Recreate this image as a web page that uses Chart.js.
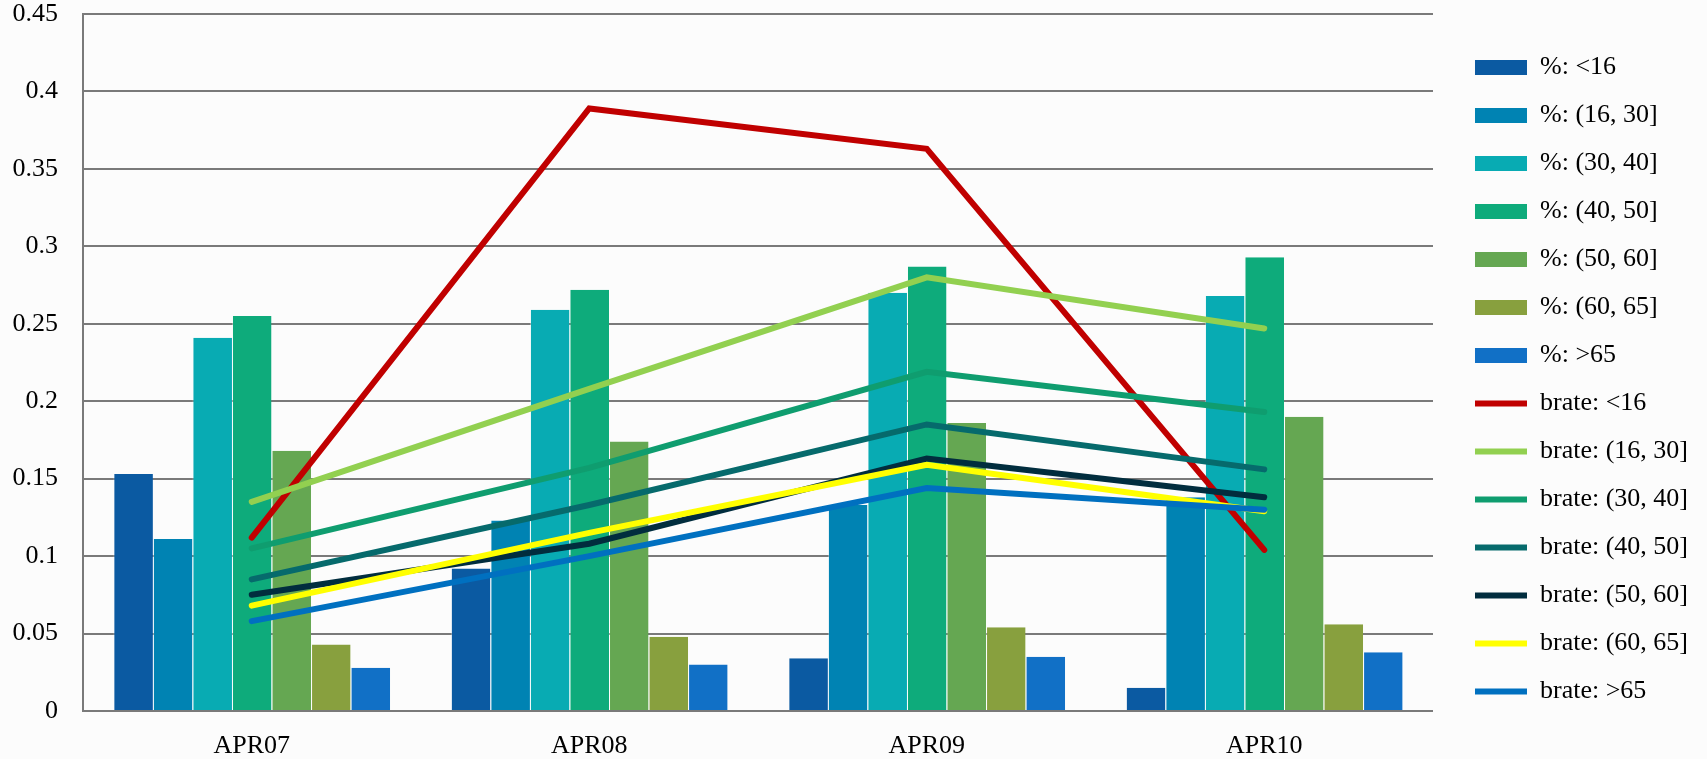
<!DOCTYPE html>
<html>
<head>
<meta charset="utf-8">
<script src="https://cdn.jsdelivr.net/npm/chart.js@4.4.1/dist/chart.umd.min.js"></script>
<style>
  html, body { margin: 0; padding: 0; background: #fcfcfc; }
  #wrapper { width: 1707px; height: 759px; position: relative; }
</style>
</head>
<body>
<div id="wrapper"><canvas id="Scheme"></canvas></div>
<script>
let periods = ['APR07', 'APR08', 'APR09', 'APR10'],
    groups = ['<16', '(16, 30]', '(30, 40]', '(40, 50]', '(50, 60]', '(60, 65]', '>65'],
    yTicks = [0, 0.05, 0.1, 0.15, 0.2, 0.25, 0.3, 0.35, 0.4, 0.45];

// share of each age group, per period
let pctLt16 = [0.153, 0.092, 0.034, 0.015],
    pct16_30 = [0.111, 0.123, 0.133, 0.138],
    pct30_40 = [0.241, 0.259, 0.270, 0.268],
    pct40_50 = [0.255, 0.272, 0.287, 0.293],
    pct50_60 = [0.168, 0.174, 0.186, 0.190],
    pct60_65 = [0.043, 0.048, 0.054, 0.056],
    pctGt65 = [0.028, 0.030, 0.035, 0.038];

// brate of each age group, per period
let brateLt16 = [0.112, 0.389, 0.363, 0.104],
    brate16_30 = [0.135, 0.208, 0.280, 0.247],
    brate30_40 = [0.105, 0.157, 0.219, 0.193],
    brate40_50 = [0.085, 0.133, 0.185, 0.156],
    brate50_60 = [0.075, 0.108, 0.163, 0.138],
    brate60_65 = [0.068, 0.115, 0.159, 0.129],
    brateGt65 = [0.058, 0.100, 0.144, 0.130];

let pctSeries = [pctLt16, pct16_30, pct30_40, pct40_50, pct50_60, pct60_65, pctGt65],
    brateSeries = [brateLt16, brate16_30, brate30_40, brate40_50, brate50_60, brate60_65, brateGt65],
    barColors = ['#0b5aa2', '#0083b3', '#08abb3', '#0eab7b', '#65a752', '#88a03e', '#1170c6'],
    lineColors = ['#c00000', '#92d050', '#0f9d6f', '#066a6c', '#012d3e', '#ffff00', '#0070c0'];

let fontFamily = '"Liberation Serif", "DejaVu Serif", serif';

let datasets = [];
pctSeries.forEach(function (item, index) {
    datasets.push({
        type: 'bar',
        label: '%: ' + groups[index],
        data: item,
        backgroundColor: barColors[index],
        borderColor: 'rgba(255, 255, 255, 0.35)',
        borderWidth: { left: 1, right: 0, top: 0, bottom: 0 },
        borderSkipped: false,
        categoryPercentage: 0.82,
        barPercentage: 1,
        order: 20
    });
});
brateSeries.forEach(function (item, index) {
    datasets.push({
        type: 'line',
        label: 'brate: ' + groups[index],
        data: item,
        borderColor: lineColors[index],
        backgroundColor: lineColors[index],
        borderWidth: 6,
        borderCapStyle: 'round',
        borderJoinStyle: 'miter',
        pointRadius: 0,
        tension: 0,
        fill: false,
        order: 10 - index
    });
});

// push the legend a bit away from the plot, like the original
const legendShift = {
    id: 'legendShift',
    afterLayout: function (c) {
        c.legend.left += 20;
        c.legend.right += 20;
    }
};

const ctx = document.getElementById('Scheme').getContext('2d');
const chart = new Chart(ctx, {
    data: {
        labels: periods,
        datasets: datasets
    },
    plugins: [legendShift],
    options: {
        responsive: true,
        maintainAspectRatio: false,
        animation: false,
        layout: { padding: { left: 10, top: 0, right: 29, bottom: 0 } },
        plugins: {
            tooltip: { enabled: false },
            legend: {
                position: 'right',
                labels: {
                    usePointStyle: true,
                    pointStyleWidth: 52,
                    boxHeight: 15,
                    padding: 22,
                    color: '#000',
                    font: { family: fontFamily, size: 26 },
                    sort: function (a, b) { return a.datasetIndex - b.datasetIndex; },
                    generateLabels: function (c) {
                        return Chart.defaults.plugins.legend.labels.generateLabels(c).map(function (l) {
                            let isLine = c.data.datasets[l.datasetIndex].type === 'line';
                            l.pointStyle = isLine ? 'line' : 'rect';
                            if (!isLine) l.lineWidth = 0;
                            return l;
                        });
                    }
                }
            }
        },
        scales: {
            x: {
                grid: { display: false, drawTicks: false },
                border: { display: true, color: '#7a7a7a', width: 2 },
                ticks: { color: '#000', padding: 20, font: { family: fontFamily, size: 26 } },
                afterFit: function (scale) {
                    scale.height = 48;
                }
            },
            y: {
                min: 0,
                max: 0.45,
                afterBuildTicks: function (scale) {
                    scale.ticks = yTicks.map(function (v) { return { value: v }; });
                },
                afterFit: function (scale) {
                    scale.width = 73;
                    scale.paddingTop = 14;
                    scale.paddingBottom = 0;
                },
                grid: { color: '#7a7a7a', lineWidth: 2, drawTicks: false },
                border: { display: true, color: '#7a7a7a', width: 2 },
                ticks: {
                    color: '#000',
                    padding: 25,
                    font: { family: fontFamily, size: 26 },
                    callback: function (v) { return String(parseFloat(v.toFixed(2))); }
                }
            }
        }
    }
});
</script>
</body>
</html>
